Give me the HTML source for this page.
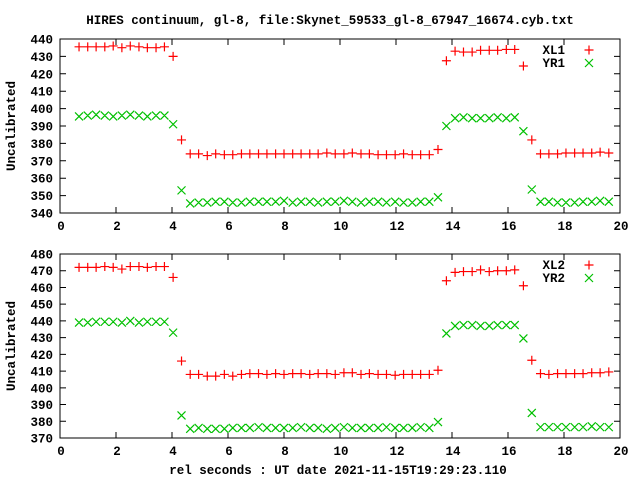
<!DOCTYPE html>
<html><head><meta charset="utf-8"><style>
body{margin:0;background:#fff}
svg text{font-family:"Liberation Mono",monospace;font-weight:bold;font-size:12.5px;fill:#000}
</style></head><body>
<svg id="chart" width="640" height="480" viewBox="0 0 640 480" xmlns="http://www.w3.org/2000/svg">
<rect width="640" height="480" fill="#fff"/>
<text x="330" y="24" text-anchor="middle">HIRES continuum, gl-8, file:Skynet_59533_gl-8_67947_16674.cyb.txt</text>
<text x="338" y="474" text-anchor="middle">rel seconds : UT date 2021-11-15T19:29:23.110</text>
<g id="p1"></g>
<g id="p2"></g>
</svg>
<script>
const xVals=[0.68,0.99,1.29,1.6,1.9,2.21,2.51,2.82,3.12,3.43,3.73,4.04,4.34,4.65,4.95,5.26,5.56,5.87,6.17,6.48,6.78,7.09,7.39,7.7,8.0,8.31,8.61,8.92,9.22,9.53,9.83,10.14,10.44,10.75,11.05,11.36,11.66,11.97,12.27,12.58,12.88,13.19,13.5,13.8,14.11,14.41,14.72,15.02,15.33,15.63,15.94,16.24,16.55,16.85,17.16,17.46,17.77,18.07,18.38,18.68,18.99,19.29,19.6];
const xl1=[435.5,435.5,435.5,435.5,436,435,436,435.5,435,435,435.5,430,382,374,374,373,374,373.5,373.5,374,374,374,374,374,374,374,374,374,374,374.5,374,374,374.5,374,374,373.5,373.5,373.5,374,373.5,373.5,373.5,376.5,427.5,433,432.5,432.5,433.5,433.5,433.5,434,434,424.5,382,374,374,374,374.5,374.5,374.5,374.5,375,374.5];
const yr1=[395.5,396,396.5,396,395.5,396,396.5,396,395.5,396,396,391,353,345.5,346,346,346.5,346.5,346,346,346.5,346.5,346.5,346.5,347,346,346.5,346.5,346,346.5,346.5,347,346.5,346,346.5,346.5,346,346.5,346,346,346.5,346.5,349,390,394.5,395,394.5,394.5,394.5,395,394.5,395,387,353.5,346.5,346.5,346,346,346,346.5,346.5,347,346.5];
const xl2=[472,472,472,472.5,472,471,472.5,472.5,472,472.5,472.5,466,416,408,408,407,407,408,407,408,408.5,408.5,408,408.5,408,408.5,408.5,408,408.5,408.5,408,409,409,408,408.5,408,408,407.5,408,408,408,408,410.5,464,469,469.5,469.5,470.5,469.5,470,470,470.5,461,416.5,408.5,408,408.5,408.5,408.5,408.5,409,409,409.5];
const yr2=[439,439,439.5,439.5,439.5,439,440,439,439.5,439.5,439.5,433,383.5,375.5,376,375.5,375.5,375.5,376,376,376,376.5,376,376,376,376,376.5,376,376,375.5,376,376.5,376,376,376,376,376.5,376,376,376,376.5,376,379.5,432.5,437,437.5,437.5,437,437,437.5,437.5,437.5,429.5,385,376.5,376.5,376.5,376.5,376.5,376.5,377,376.5,376.5];
const xTicks=[0,2,4,6,8,10,12,14,16,18,20];
const yTicks1=[340,350,360,370,380,390,400,410,420,430,440];
const yTicks2=[370,380,390,400,410,420,430,440,450,460,470,480];
const NS="http://www.w3.org/2000/svg";
function mk(parent,tag,attrs){const e=document.createElementNS(NS,tag);for(const k in attrs)e.setAttribute(k,attrs[k]);parent.appendChild(e);return e;}
function panel(g,top,bot,ymin,ymax,yTicks,s1,s2,n1,n2){
  const L=60,R=620;
  const sx=v=>L+(v-0)/(20-0)*(R-L);
  const sy=v=>bot-(v-ymin)/(ymax-ymin)*(bot-top);
  const frame=mk(g,'rect',{x:L,y:top,width:R-L,height:bot-top,fill:'none',stroke:'#000','stroke-width':1});
  
  
  xTicks.forEach(t=>{
    const x=sx(t);
    const tk=mk(g,'path',{d:`M${x} ${bot}v-6M${x} ${top}v6`,stroke:'#000'});
    
    
    const tl=mk(g,'text',{x:x+1,y:bot+17,'text-anchor':'middle'});tl.textContent=t;
    
    
  });
  yTicks.forEach(t=>{
    const y=sy(t);
    const tk=mk(g,'path',{d:`M${L} ${y}h6M${R} ${y}h-6`,stroke:'#000'});
    
    
    const tl=mk(g,'text',{x:L-7,y:y+4.5,'text-anchor':'end'});tl.textContent=t;
    
    
  });
  const yt=mk(g,'text',{x:0,y:0,transform:`translate(15,${(top+bot)/2}) rotate(-90)`,'text-anchor':'middle'});
  yt.textContent='Uncalibrated';
  
  
  const plus=(x,y)=>`M${x-4.5} ${y}h9M${x} ${y-4.5}v9`;
  const cross=(x,y)=>`M${x-4} ${y-4}l8 8M${x-4} ${y+4}l8 -8`;
  let d1='',d2='';
  xVals.forEach((xv,i)=>{d1+=plus(sx(xv),sy(s1[i]));d2+=cross(sx(xv),sy(s2[i]));});
  const p1=mk(g,'path',{d:d1,stroke:'#ff0000','stroke-width':1.2,fill:'none'});
  
  
  const p2=mk(g,'path',{d:d2,stroke:'#00c000','stroke-width':1.2,fill:'none'});
  
  
  const l1=mk(g,'text',{x:565,y:top+15,'text-anchor':'end'});l1.textContent=n1;
  
  
  mk(g,'path',{d:plus(589,top+11),stroke:'#ff0000','stroke-width':1.2});
  const l2=mk(g,'text',{x:565,y:top+28,'text-anchor':'end'});l2.textContent=n2;
  
  
  mk(g,'path',{d:cross(589,top+24),stroke:'#00c000','stroke-width':1.2});
}
panel(document.getElementById('p1'),39,213,340,440,yTicks1,xl1,yr1,'XL1','YR1');
panel(document.getElementById('p2'),254,438,370,480,yTicks2,xl2,yr2,'XL2','YR2');
</script>
</body></html>
